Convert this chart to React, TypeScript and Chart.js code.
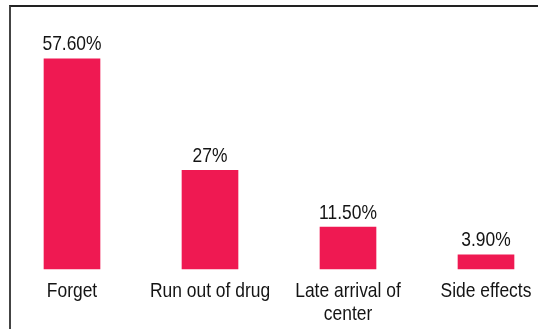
import React, { useEffect, useRef } from "react";
import { Chart, registerables } from "chart.js";

Chart.register(...registerables);

const categories: (string | string[])[] = ["Forget", "Run out of drug", ["Late arrival of", "center"], "Side effects"];
const values: number[] = [57.6, 27, 11.5, 3.9];
const valueLabels: string[] = ["57.60%", "27%", "11.50%", "3.90%"];

const FONT = "'Liberation Sans', Arial, sans-serif";
const STRETCH = 0.83;

function drawNarrow(ctx: CanvasRenderingContext2D, text: string, x: number, y: number) {
  ctx.save();
  ctx.translate(x, y);
  ctx.scale(STRETCH, 1);
  ctx.fillText(text, 0, 0);
  ctx.restore();
}

const labelPlugin = {
  id: "textLabels",
  afterDatasetsDraw(chart: any) {
    const ctx: CanvasRenderingContext2D = chart.ctx;
    const meta = chart.getDatasetMeta(0);
    const xScale = chart.scales.x;
    const area = chart.chartArea;
    ctx.save();
    ctx.font = `21px ${FONT}`;
    ctx.fillStyle = "#141414";
    ctx.textAlign = "center";
    ctx.textBaseline = "alphabetic";
    meta.data.forEach((el: any, i: number) => {
      drawNarrow(ctx, valueLabels[i], el.x, el.y - 8.5);
    });
    categories.forEach((cat, i) => {
      const x = xScale.getPixelForValue(i);
      const lines = Array.isArray(cat) ? cat : [cat];
      lines.forEach((line, j) => {
        drawNarrow(ctx, line, x, area.bottom + 28 + j * 23);
      });
    });
    ctx.restore();
  },
};

export default function App() {
  const ref = useRef<HTMLCanvasElement>(null);
  useEffect(() => {
    if (!ref.current) return;
    const chart = new Chart(ref.current, {
      type: "bar",
      data: {
        labels: categories as any,
        datasets: [
          {
            data: values,
            backgroundColor: "#EF1952",
            barThickness: 56,
            clip: false as any,
          },
        ],
      },
      options: {
        animation: false,
        responsive: false,
        maintainAspectRatio: false,
        layout: { padding: { left: 72, right: 52, top: 50, bottom: 0 } },
        plugins: { legend: { display: false }, tooltip: { enabled: false } },
        scales: {
          x: {
            offset: false,
            grid: { display: false },
            border: { display: false },
            ticks: { display: false },
            afterFit(scale: any) {
              scale.height = 60;
            },
          },
          y: {
            display: false,
            min: 0,
            max: 60,
          },
        },
      },
      plugins: [labelPlugin],
    });
    return () => chart.destroy();
  }, []);
  return (
    <div style={{ position: "fixed", left: 0, top: 0, width: 538, height: 329, background: "#fff", overflow: "hidden" }}>
      <div
        style={{
          position: "absolute",
          left: 9,
          top: 5,
          width: 540,
          height: 340,
          borderTop: "2px solid #222",
          borderLeft: "2px solid #444",
        }}
      />
      <canvas ref={ref} width={538} height={329} style={{ position: "absolute", left: 0, top: 0 }} />
    </div>
  );
}
